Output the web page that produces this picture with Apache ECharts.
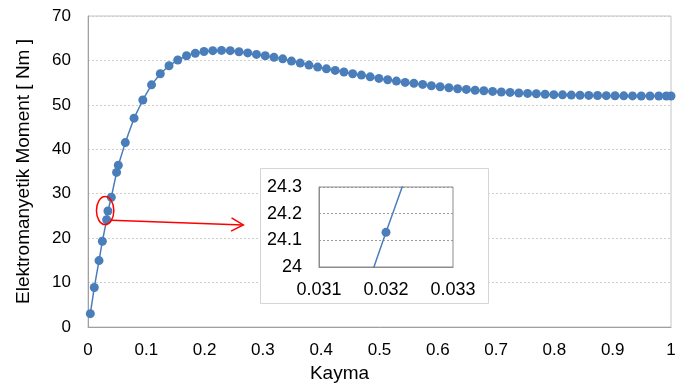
<!DOCTYPE html>
<html><head><meta charset="utf-8">
<script src="https://cdn.jsdelivr.net/npm/echarts@6/dist/echarts.min.js"></script>
<style>html,body{margin:0;padding:0;background:#fff}#c{width:686px;height:392px}</style>
</head><body><div id="c"></div>
<script>
// ---- data ----
const slip = [0.004, 0.0108, 0.0189, 0.0246, 0.032, 0.0342, 0.040, 0.049, 0.052, 0.064, 0.079, 0.094,
  0.109, 0.124, 0.139, 0.154, 0.169, 0.184, 0.199, 0.214, 0.229, 0.244, 0.259, 0.274, 0.289, 0.304,
  0.319, 0.334, 0.349, 0.364, 0.379, 0.394, 0.409, 0.424, 0.439, 0.454, 0.469, 0.484, 0.499, 0.514,
  0.529, 0.544, 0.559, 0.574, 0.589, 0.604, 0.619, 0.634, 0.649, 0.664, 0.679, 0.694, 0.709, 0.724,
  0.739, 0.754, 0.769, 0.784, 0.799, 0.814, 0.829, 0.844, 0.859, 0.874, 0.889, 0.904, 0.919, 0.934,
  0.949, 0.964, 0.979, 0.992, 1.0];
const torque = [3.0, 8.9, 14.95, 19.3, 24.13, 26.1, 29.2, 34.8, 36.4, 41.5, 47.0, 51.1,
  54.5, 57.0, 58.8, 60.1, 61.05, 61.6, 62.0, 62.2, 62.25, 62.2, 61.95, 61.7, 61.35, 61.05,
  60.7, 60.35, 59.85, 59.4, 58.95, 58.5, 58.1, 57.75, 57.4, 57.0, 56.7, 56.3, 55.95, 55.65,
  55.35, 55.05, 54.85, 54.6, 54.3, 54.07, 53.85, 53.62, 53.47, 53.3, 53.18, 53.02, 52.9, 52.8,
  52.68, 52.58, 52.5, 52.38, 52.3, 52.25, 52.2, 52.15, 52.12, 52.1, 52.07, 52.05, 52.03, 52.02,
  52.0, 52.0, 52.0, 52.0, 52.0];
// zoomed detail (inset)
const insetSlip = [0.0300, 0.0320, 0.0340];
const insetTorque = [22.69, 24.13, 25.54];
const xAxisName = 'Kayma';
const yAxisName = 'Elektromanyetik Moment [ Nm ]';
// annotation: centre of the red ellipse, in data units
const zoomMark = [0.0294, 26.2];

const font = "'Liberation Sans', Arial, sans-serif";
const blue = '#4a7ebb';
const chart = echarts.init(document.getElementById('c'));

const option = {
  animation: false,
  backgroundColor: '#fff',
  grid: [
    {left: 88, top: 16, right: 15, bottom: 65, show: true, borderColor: '#c4c4c4', borderWidth: 1, z: 0},
    {left: 319, top: 187, width: 134, height: 80, show: true, borderColor: '#8c8c8c', borderWidth: 1, backgroundColor: '#fff', z: 11}
  ],
  xAxis: [
    {gridIndex: 0, type: 'value', min: 0, max: 1, interval: 0.1,
     name: xAxisName, nameLocation: 'middle', nameGap: 34,
     nameTextStyle: {fontSize: 19, color: '#000', fontFamily: font, padding: [0, 80, 0, 0]},
     axisLine: {lineStyle: {color: '#a0a0a0', width: 1}}, axisTick: {show: false},
     axisLabel: {fontSize: 17, color: '#000', margin: 15, fontFamily: font},
     splitLine: {show: false}},
    {gridIndex: 1, type: 'value', min: 0.031, max: 0.033, interval: 0.001, z: 11,
     axisLine: {lineStyle: {color: '#8c8c8c'}}, axisTick: {show: false},
     axisLabel: {fontSize: 18, color: '#000', margin: 14, fontFamily: font, formatter: v => v.toFixed(3)},
     splitLine: {show: false}}
  ],
  yAxis: [
    {gridIndex: 0, type: 'value', min: 0, max: 70, interval: 10,
     name: yAxisName, nameLocation: 'middle', nameGap: 55,
     nameTextStyle: {fontSize: 19, color: '#000', fontFamily: font},
     axisLine: {show: true, lineStyle: {color: '#a0a0a0', width: 1}}, axisTick: {show: false},
     axisLabel: {fontSize: 17, color: '#000', margin: 17, fontFamily: font},
     splitLine: {show: true, lineStyle: {color: '#cfcfcf', type: [2, 2], width: 1}}},
    {gridIndex: 1, type: 'value', min: 24, max: 24.3, interval: 0.1, z: 11,
     axisLine: {show: true, lineStyle: {color: '#8c8c8c'}}, axisTick: {show: false},
     axisLabel: {fontSize: 18, color: '#000', margin: 17, fontFamily: font},
     splitLine: {show: true, lineStyle: {color: '#9a9a9a', type: [2, 2], width: 1}}}
  ],
  series: [
    {type: 'line', xAxisIndex: 0, yAxisIndex: 0, z: 2,
     data: slip.map((x, i) => [x, torque[i]]),
     symbol: 'circle', symbolSize: 9, itemStyle: {color: blue},
     lineStyle: {color: blue, width: 1.5}},
    {type: 'line', xAxisIndex: 1, yAxisIndex: 1, z: 12, clip: true,
     data: insetSlip.map((x, i) => [x, insetTorque[i]]),
     symbol: 'circle', symbolSize: 9, itemStyle: {color: blue},
     lineStyle: {color: blue, width: 1.5}}
  ],
  graphic: [
    {type: 'rect', id: 'insetBox', z: 10, shape: {x: 260.5, y: 168.5, width: 228, height: 135},
     style: {fill: '#fff', stroke: '#d4d4d4', lineWidth: 1}}
  ]
};
chart.setOption(option);

// annotation (ellipse + arrow) positioned from data coordinates
const c = chart.convertToPixel({gridIndex: 0}, zoomMark);
const rx = 8.7, ry = 14;
const start = [c[0] + 6.4, c[1] + 9.6];
const end = [260 - 16.7, c[1] + 14.3];
const dx = end[0] - start[0], dy = end[1] - start[1];
const len = Math.hypot(dx, dy), ux = dx / len, uy = dy / len;
const hl = 12, hw = 6.7;
const h1 = [end[0] - ux * hl - uy * hw, end[1] - uy * hl + ux * hw];
const h2 = [end[0] - ux * hl + uy * hw, end[1] - uy * hl - ux * hw];
chart.setOption({
  graphic: [
    {type: 'rect', id: 'insetBox', z: 10, shape: {x: 260.5, y: 168.5, width: 228, height: 135},
     style: {fill: '#fff', stroke: '#d4d4d4', lineWidth: 1}},
    {type: 'ellipse', id: 'ell', z: 20, shape: {cx: c[0], cy: c[1], rx: rx, ry: ry},
     style: {fill: 'none', stroke: '#ff0000', lineWidth: 1.5}},
    {type: 'line', id: 'arrowLine', z: 20, shape: {x1: start[0], y1: start[1], x2: end[0], y2: end[1]},
     style: {stroke: '#ff0000', lineWidth: 1.5}},
    {type: 'polyline', id: 'arrowHead', z: 20, shape: {points: [h1, end, h2]},
     style: {fill: 'none', stroke: '#ff0000', lineWidth: 1.5}}
  ]
});
</script>
</body></html>
